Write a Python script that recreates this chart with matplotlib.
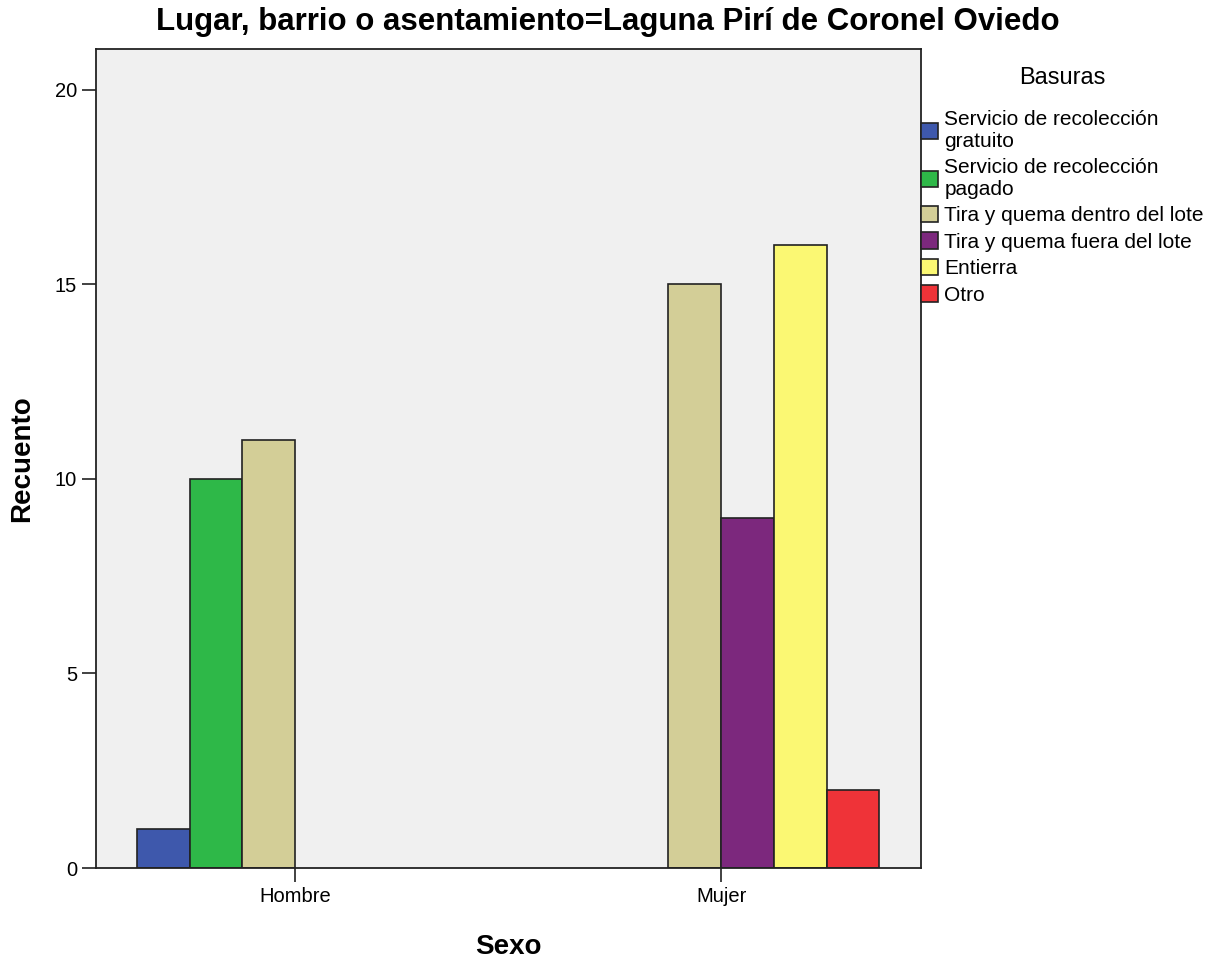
import numpy as np
import matplotlib.pyplot as plt

plt.rcParams['font.family'] = ['Liberation Sans', 'DejaVu Sans']

# datos
sexo = ["Hombre", "Mujer"]
categorias = ["Servicio de recolección\ngratuito",
              "Servicio de recolección\npagado",
              "Tira y quema dentro del lote",
              "Tira y quema fuera del lote",
              "Entierra",
              "Otro"]
recuento = {
    "Hombre": [1, 10, 11, 0, 0, 0],
    "Mujer": [0, 0, 15, 9, 16, 2],
}
colores = ["#3E58AC", "#2EB848", "#D3CE97", "#7C287D", "#FBF873", "#EF3338"]

fig = plt.figure(figsize=(12.27, 9.58), dpi=100)
ax = fig.add_axes([0.0782, 0.0939, 0.6724, 0.855])
ax.set_facecolor("#F0F0F0")

x = np.arange(len(sexo))
w = 0.1237
handles = []
for i, cat in enumerate(categorias):
    vals = [recuento[s][i] for s in sexo]
    pos = x + (i - 2.5) * w
    for p, v in zip(pos, vals):
        if v > 0:
            ax.bar(p, v, width=w, color=colores[i], edgecolor="#222222", linewidth=1.2)
    handles.append(plt.Rectangle((0, 0), 1, 1, facecolor=colores[i], edgecolor="#222222", linewidth=1.2))

ax.set_xlim(-0.467, 1.469)
ax.set_ylim(0, 21.05)
ax.set_xticks(x)
ax.set_xticklabels(sexo)
ax.set_yticks([0, 5, 10, 15, 20])
ax.tick_params(axis="both", length=10, width=1.3, labelsize=14.5, color="#333333")
for sp in ax.spines.values():
    sp.set_linewidth(1.3)
    sp.set_color("#222222")

ax.set_xlabel("Sexo", fontsize=20, fontweight="bold", labelpad=20)
ax.set_ylabel("Recuento", fontsize=20, fontweight="bold", labelpad=14)
fig.suptitle("Lugar, barrio o asentamiento=Laguna Pirí de Coronel Oviedo",
             x=0.495, y=0.977, va="center", fontsize=22.5, fontweight="bold")

leg = fig.legend(handles, categorias, title="Basuras", loc="upper left",
                 bbox_to_anchor=(0.7506, 0.93), frameon=False, fontsize=15,
                 title_fontsize=17, handlelength=0.82, handleheight=0.82,
                 handletextpad=0.3, labelspacing=0.34, borderpad=0.0,
                 borderaxespad=0.0)
leg._legend_box.align = "center"
leg._legend_box.sep = 15

fig.savefig("out.png", dpi=100)
